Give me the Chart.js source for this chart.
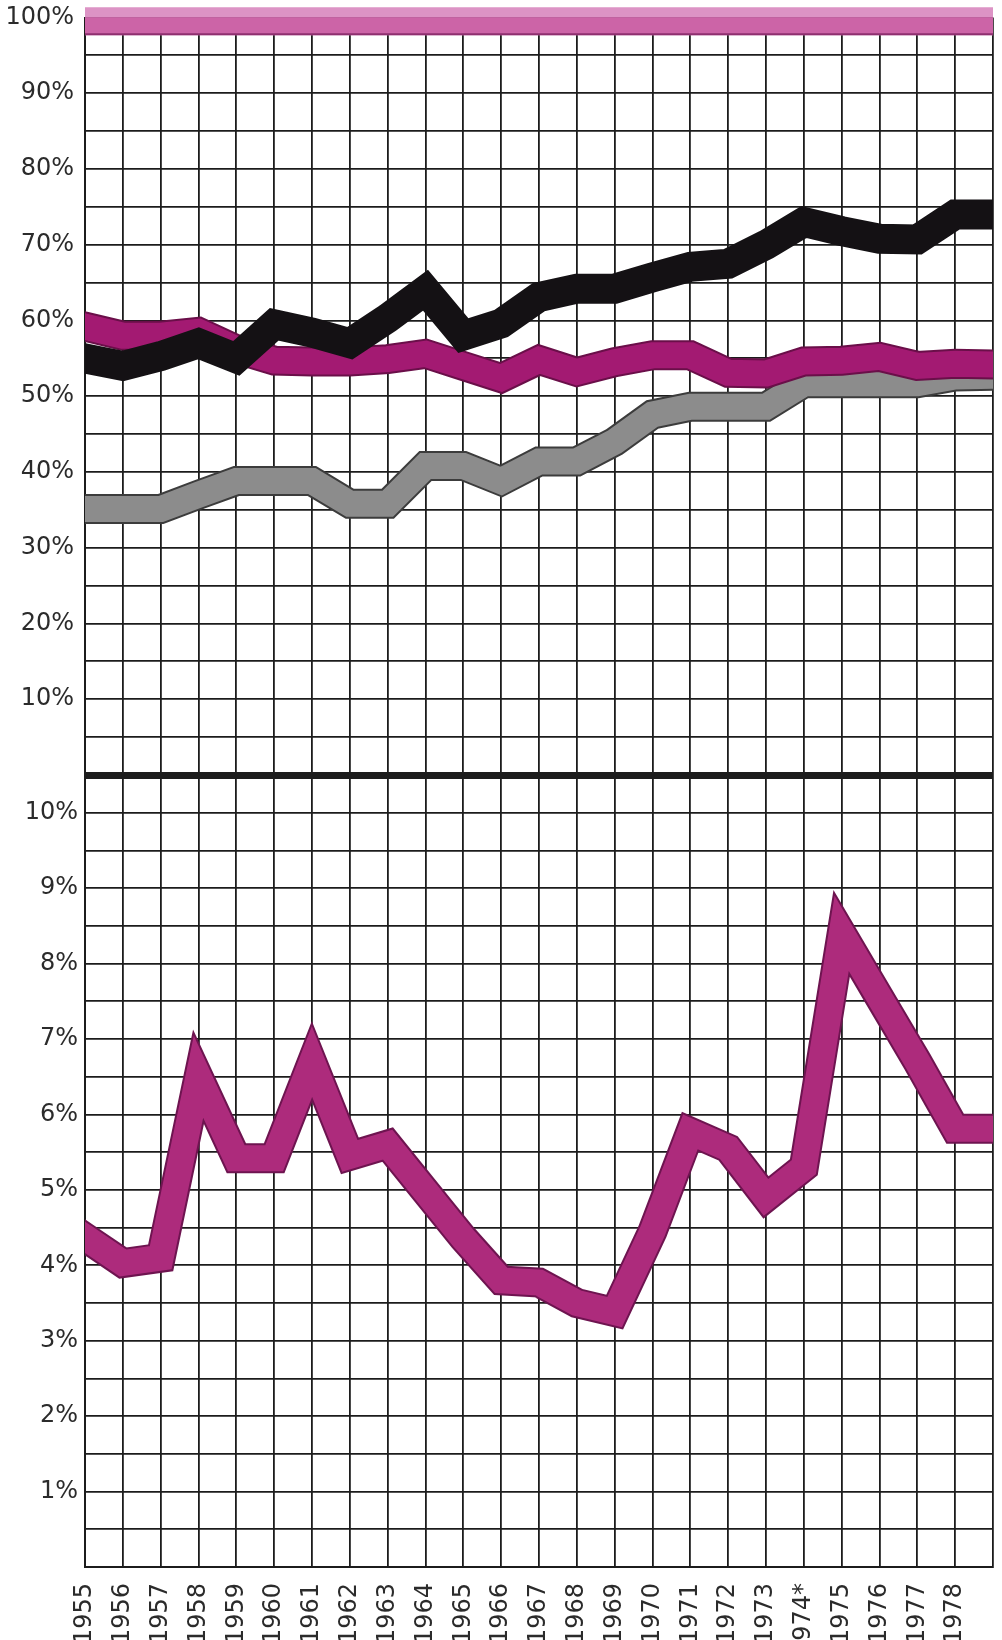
<!DOCTYPE html>
<html>
<head>
<meta charset="utf-8">
<script src="https://cdn.jsdelivr.net/npm/chart.js@4.4.1/dist/chart.umd.min.js"></script>
<style>
  html, body { margin: 0; padding: 0; background: #fff; }
  #wrap { width: 1002px; height: 1640px; }
</style>
</head>
<body>
<div id="wrap"><canvas id="myChart" width="1002" height="1640"></canvas></div>
<script>
// years on the grid (1979 is the unlabeled right edge)
var years = [1955, 1956, 1957, 1958, 1959, 1960, 1961, 1962, 1963, 1964, 1965, 1966,
  1967, 1968, 1969, 1970, 1971, 1972, 1973, 1974, 1975, 1976, 1977, 1978, 1979];

// upper panel, percent
var topBand = [99.5, 99.5, 99.5, 99.5, 99.5, 99.5, 99.5, 99.5, 99.5, 99.5, 99.5, 99.5,
  99.5, 99.5, 99.5, 99.5, 99.5, 99.5, 99.5, 99.5, 99.5, 99.5, 99.5, 99.5, 99.5];
var blackShare = [55, 54, 55.3, 57, 55, 59.5, 58.4, 57, 60.3, 64, 58, 59.6,
  63.1, 64.2, 64.2, 65.7, 67.1, 67.5, 70, 73, 71.8, 70.8, 70.7, 74, 74];
var pinkShare = [59.2, 58, 58, 58.5, 56.2, 54.7, 54.6, 54.6, 54.9, 55.6, 54, 52.4,
  54.8, 53.2, 54.5, 55.4, 55.4, 53.1, 53, 54.6, 54.7, 55.2, 54, 54.3, 54.2];
var grayShare = [35.1, 35.1, 35.1, 37, 38.8, 38.8, 38.8, 35.8, 35.8, 40.8, 40.8, 38.8,
  41.4, 41.4, 44, 47.6, 48.6, 48.6, 48.6, 51.7, 51.7, 51.7, 51.7, 52.6, 52.7];

// lower panel, percent
var lowerRate = [4.37, 4.03, 4.1, 6.5, 5.42, 5.42, 6.7, 5.45, 5.6, 4.98, 4.36, 3.8,
  3.77, 3.5, 3.38, 4.45, 5.77, 5.55, 4.9, 5.3, 8.4, 7.55, 6.7, 5.81, 5.81];

var topLabels = [10, 20, 30, 40, 50, 60, 70, 80, 90, 100];
var lowerLabels = [1, 2, 3, 4, 5, 6, 7, 8, 9, 10];

var gridColor = "#1c1c1c";
var textColor = "#2b2b2b";
var fontFamily = "'DejaVu Sans', 'Noto Sans', sans-serif";

function pts(values) {
  return years.map(function (yr, i) {
    return { x: yr, y: values[i] };
  });
}

function stroke(values, axis, color, width, order, clip, cap) {
  return {
    data: pts(values),
    yAxisID: axis,
    borderColor: color,
    backgroundColor: color,
    borderWidth: width,
    borderJoinStyle: "miter",
    borderCapStyle: cap || "square",
    pointRadius: 0,
    tension: 0,
    fill: false,
    order: order,
    clip: clip
  };
}

// no extra padding from tick labels: plot box is set by layout padding only
function noPad(s) {
  s.paddingLeft = 0;
  s.paddingRight = 0;
  s.paddingTop = 0;
  s.paddingBottom = 0;
}

var datasets = [
  stroke(blackShare, "yTop", "#141114", 30, 1),
  stroke(pinkShare, "yTop", "#a31a72", 26, 2),
  stroke(pinkShare, "yTop", "#6a0f49", 30, 3),
  stroke(grayShare, "yTop", "#8c8c8c", 26, 4),
  stroke(grayShare, "yTop", "#3c3c3c", 30, 5),
  stroke(topBand, "yTop", "#cc64a7", 24, 6, undefined, "butt"),
  stroke(topBand, "yTop", "#8e2f6f", 28, 7, undefined, "butt"),
  stroke(topBand, "yTop", "#dc93c5", 28, 8, { left: 0, right: 0, top: 20, bottom: 0 }, "butt"),
  stroke(lowerRate, "yLow", "#ad2b7c", 26, 9),
  stroke(lowerRate, "yLow", "#6e1450", 30, 10)
];

var ctx = document.getElementById("myChart").getContext("2d");
var chart = new Chart(ctx, {
  type: "line",
  data: { datasets: datasets },
  options: {
    responsive: false,
    animation: false,
    devicePixelRatio: 1,
    layout: { padding: { top: 17.5, right: 9, left: 0, bottom: 0 } },
    plugins: { legend: { display: false }, tooltip: { enabled: false } },
    scales: {
      x: {
        type: "linear",
        min: 1955,
        max: 1979,
        z: 1,
        afterFit: function (s) { noPad(s); s.height = 73; },
        border: { display: true, color: gridColor, width: 2 },
        grid: { color: gridColor, lineWidth: 1.8, drawTicks: false },
        ticks: {
          stepSize: 1,
          autoSkip: false,
          minRotation: 90,
          maxRotation: 90,
          padding: 16,
          color: textColor,
          font: { family: fontFamily, size: 24 },
          callback: function (v) {
            if (v === 1979) return "";
            if (v === 1974) return "1974*";
            return String(v);
          }
        }
      },
      yLow: {
        type: "linear",
        position: "left",
        stack: "panels",
        stackWeight: 792,
        min: 0,
        max: 10.5,
        z: 1,
        afterFit: function (s) { noPad(s); s.width = 85; },
        border: { display: true, color: gridColor, width: 2 },
        grid: {
          color: gridColor,
          drawTicks: false,
          lineWidth: function (c) { return c.tick && c.tick.value === 10.5 ? 7 : 1.8; }
        },
        ticks: {
          stepSize: 0.5,
          autoSkip: false,
          padding: 7,
          color: textColor,
          font: { family: fontFamily, size: 24 },
          callback: function (v) {
            return lowerLabels.indexOf(v) >= 0 ? v + "%" : "";
          }
        }
      },
      yTop: {
        type: "linear",
        position: "left",
        stack: "panels",
        stackWeight: 757.5,
        min: 0,
        max: 100,
        z: 1,
        afterFit: function (s) { noPad(s); s.width = 85; },
        border: { display: true, color: gridColor, width: 2 },
        grid: {
          color: gridColor,
          drawTicks: false,
          lineWidth: function (c) { return c.tick && c.tick.value === 0 ? 7 : 1.8; }
        },
        ticks: {
          stepSize: 5,
          autoSkip: false,
          padding: 11,
          color: textColor,
          font: { family: fontFamily, size: 24 },
          callback: function (v) {
            return topLabels.indexOf(v) >= 0 ? v + "%" : "";
          }
        }
      }
    }
  }
});
</script>
</body>
</html>
